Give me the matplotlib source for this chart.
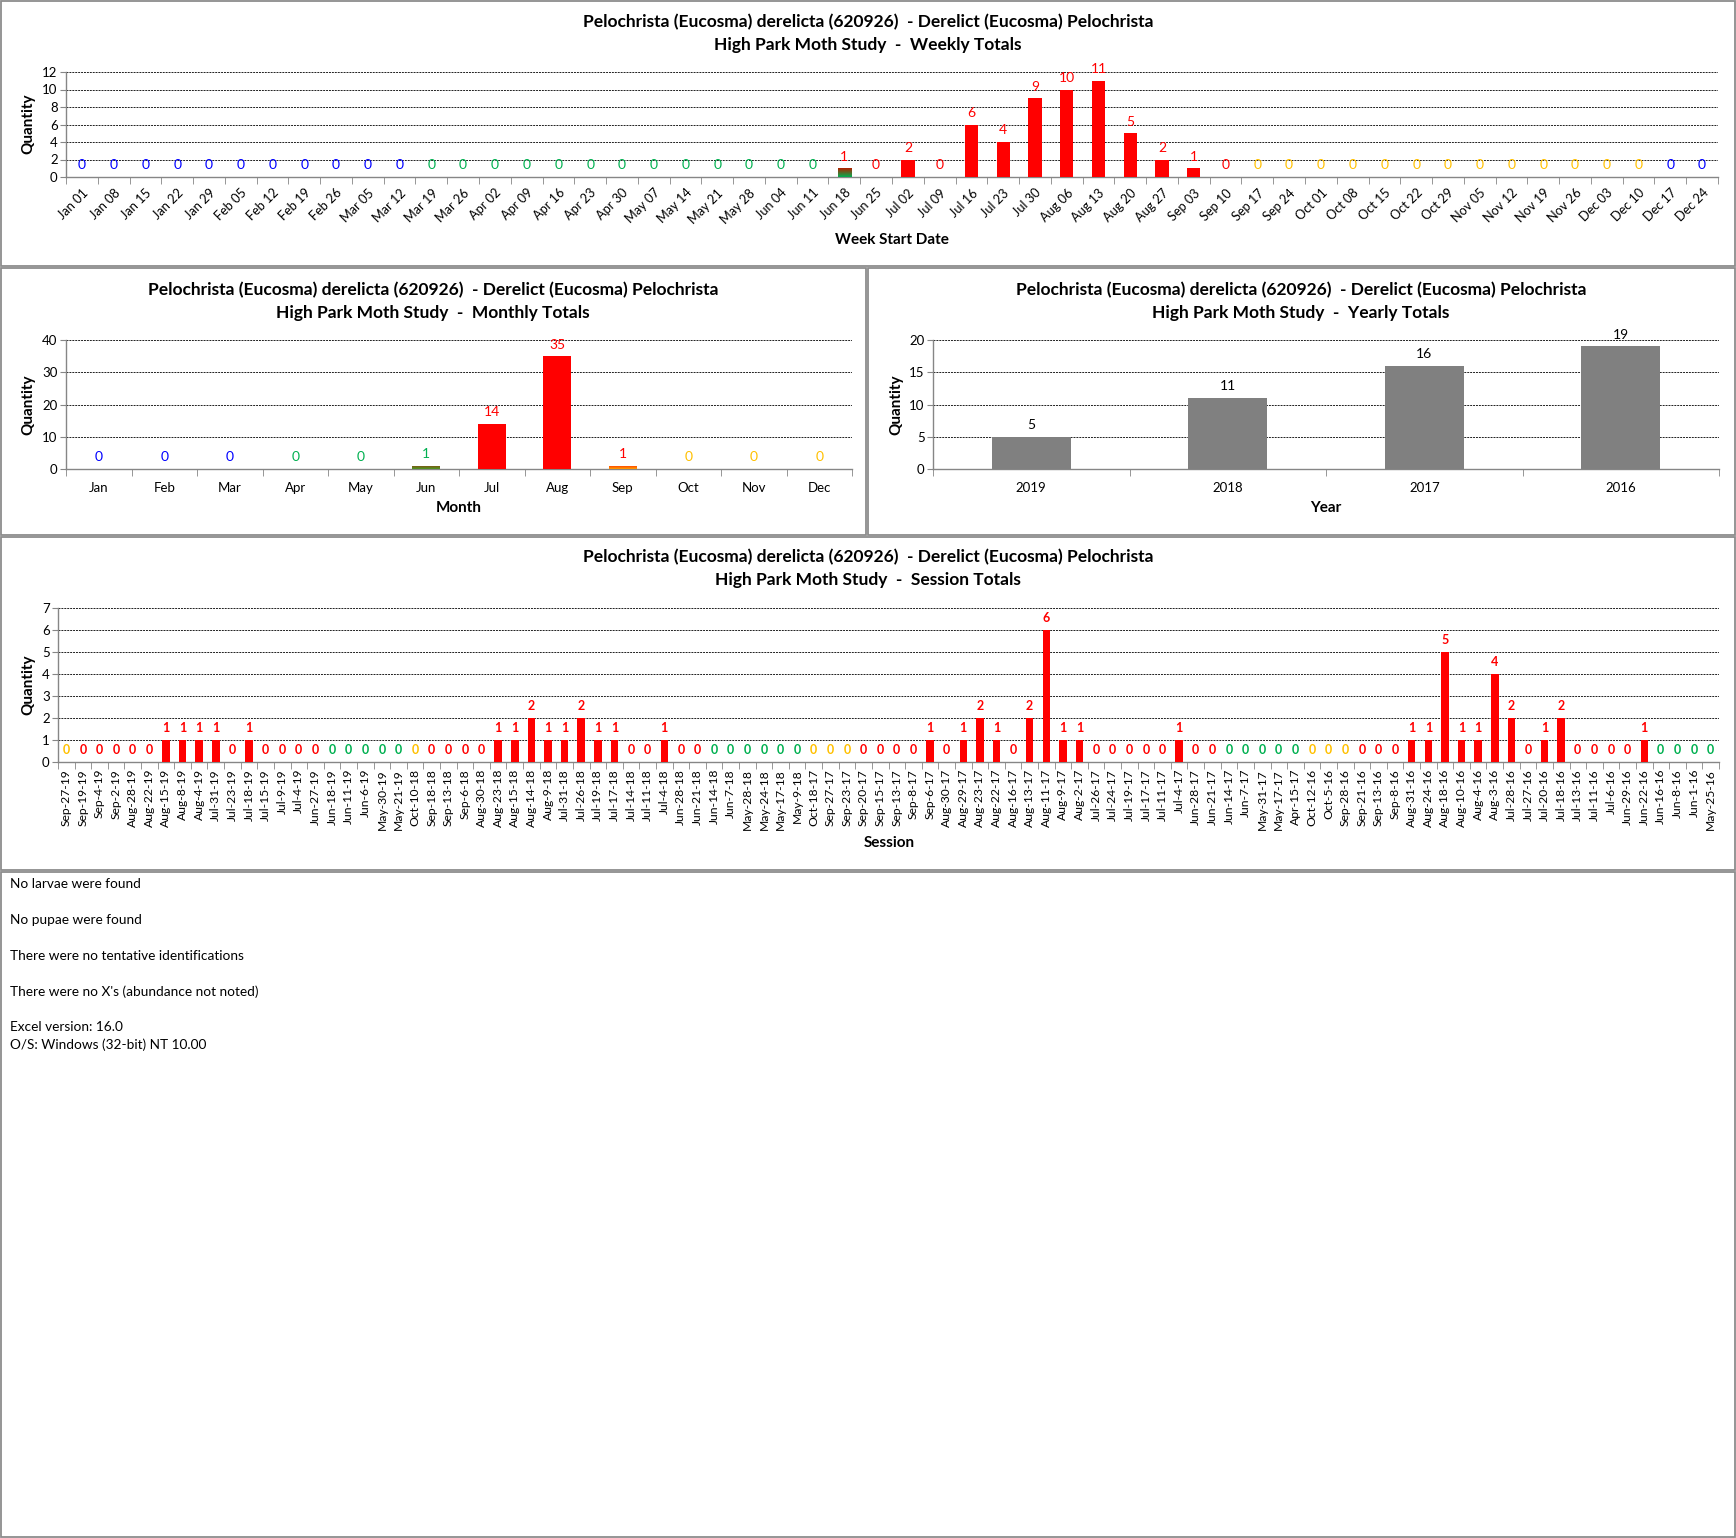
import numpy as np
import matplotlib
matplotlib.use('Agg')
import matplotlib.pyplot as plt
from matplotlib.patches import Rectangle
from matplotlib.colors import LinearSegmentedColormap

plt.rcParams['font.family'] = ['Lato', 'DejaVu Sans']

# ---------------- data ----------------
species = 'Pelochrista (Eucosma) derelicta (620926)  - Derelict (Eucosma) Pelochrista'

weeks = ['Jan 01', 'Jan 08', 'Jan 15', 'Jan 22', 'Jan 29', 'Feb 05', 'Feb 12', 'Feb 19',
         'Feb 26', 'Mar 05', 'Mar 12', 'Mar 19', 'Mar 26', 'Apr 02', 'Apr 09', 'Apr 16',
         'Apr 23', 'Apr 30', 'May 07', 'May 14', 'May 21', 'May 28', 'Jun 04', 'Jun 11',
         'Jun 18', 'Jun 25', 'Jul 02', 'Jul 09', 'Jul 16', 'Jul 23', 'Jul 30', 'Aug 06',
         'Aug 13', 'Aug 20', 'Aug 27', 'Sep 03', 'Sep 10', 'Sep 17', 'Sep 24', 'Oct 01',
         'Oct 08', 'Oct 15', 'Oct 22', 'Oct 29', 'Nov 05', 'Nov 12', 'Nov 19', 'Nov 26',
         'Dec 03', 'Dec 10', 'Dec 17', 'Dec 24']
weekly_counts = [0] * 24 + [1, 0, 2, 0, 6, 4, 9, 10, 11, 5, 2, 1, 0] + [0] * 15
# season of each week: W winter, Sp spring, Su summer, F fall, SpSu mixed
week_season = ['W'] * 11 + ['Sp'] * 13 + ['SpSu'] + ['Su'] * 12 + ['F'] * 13 + ['W'] * 2

months = ['Jan', 'Feb', 'Mar', 'Apr', 'May', 'Jun', 'Jul', 'Aug', 'Sep', 'Oct', 'Nov', 'Dec']
monthly_counts = [0, 0, 0, 0, 0, 1, 14, 35, 1, 0, 0, 0]
month_season = ['W', 'W', 'W', 'Sp', 'Sp', 'SpSu', 'Su', 'Su', 'SuF', 'F', 'F', 'F']

years = ['2019', '2018', '2017', '2016']
yearly_counts = [5, 11, 16, 19]

sessions = ['Sep-27-19', 'Sep-19-19', 'Sep-4-19', 'Sep-2-19', 'Aug-28-19', 'Aug-22-19',
            'Aug-15-19', 'Aug-8-19', 'Aug-4-19', 'Jul-31-19', 'Jul-23-19', 'Jul-18-19',
            'Jul-15-19', 'Jul-9-19', 'Jul-4-19', 'Jun-27-19', 'Jun-18-19', 'Jun-11-19',
            'Jun-6-19', 'May-30-19', 'May-21-19',
            'Oct-10-18', 'Sep-18-18', 'Sep-13-18', 'Sep-6-18', 'Aug-30-18', 'Aug-23-18',
            'Aug-15-18', 'Aug-14-18', 'Aug-9-18', 'Jul-31-18', 'Jul-26-18', 'Jul-19-18',
            'Jul-17-18', 'Jul-14-18', 'Jul-11-18', 'Jul-4-18', 'Jun-28-18', 'Jun-21-18',
            'Jun-14-18', 'Jun-7-18', 'May-28-18', 'May-24-18', 'May-17-18', 'May-9-18',
            'Oct-18-17', 'Sep-27-17', 'Sep-23-17', 'Sep-20-17', 'Sep-15-17', 'Sep-13-17',
            'Sep-8-17', 'Sep-6-17', 'Aug-30-17', 'Aug-29-17', 'Aug-23-17', 'Aug-22-17',
            'Aug-16-17', 'Aug-13-17', 'Aug-11-17', 'Aug-9-17', 'Aug-2-17', 'Jul-26-17',
            'Jul-24-17', 'Jul-19-17', 'Jul-17-17', 'Jul-11-17', 'Jul-4-17', 'Jun-28-17',
            'Jun-21-17', 'Jun-14-17', 'Jun-7-17', 'May-31-17', 'May-17-17', 'Apr-15-17',
            'Oct-12-16', 'Oct-5-16', 'Sep-28-16', 'Sep-21-16', 'Sep-13-16', 'Sep-8-16',
            'Aug-31-16', 'Aug-24-16', 'Aug-18-16', 'Aug-10-16', 'Aug-4-16', 'Aug-3-16',
            'Jul-28-16', 'Jul-27-16', 'Jul-20-16', 'Jul-18-16', 'Jul-13-16', 'Jul-11-16',
            'Jul-6-16', 'Jun-29-16', 'Jun-22-16', 'Jun-16-16', 'Jun-8-16', 'Jun-1-16',
            'May-25-16']
session_counts = [0, 0, 0, 0, 0, 0, 1, 1, 1, 1, 0, 1, 0, 0, 0, 0, 0, 0, 0, 0, 0,
                  0, 0, 0, 0, 0, 1, 1, 2, 1, 1, 2, 1, 1, 0, 0, 1, 0, 0, 0, 0, 0, 0, 0, 0,
                  0, 0, 0, 0, 0, 0, 0, 1, 0, 1, 2, 1, 0, 2, 6, 1, 1, 0, 0, 0, 0, 0, 1, 0,
                  0, 0, 0, 0, 0, 0,
                  0, 0, 0, 0, 0, 0, 1, 1, 5, 1, 1, 4, 2, 0, 1, 2, 0, 0, 0, 0, 1, 0, 0, 0, 0]

notes = ['No larvae were found', 'No pupae were found',
         'There were no tentative identifications',
         "There were no X's (abundance not noted)"]
version_lines = ['Excel version: 16.0', 'O/S: Windows (32-bit) NT 10.00']

# ---------------- style ----------------
RED = '#FF0000'
SEASON_COL = {'W': '#0000FF', 'Sp': '#00B050', 'Su': RED, 'F': '#FFC000'}
GRID = '#202020'
SPINE = '#868686'
MONTH_NUM = {m: i + 1 for i, m in enumerate(months)}
TITLE_FS = 12.5

W, H = 1736, 1538
fig = plt.figure(figsize=(W / 100, H / 100), dpi=100)


def px_axes(l, t, r, b):
    return fig.add_axes([l / W, 1 - b / H, (r - l) / W, (b - t) / H])


def ftext(x, y, s, **kw):
    fig.text(x / W, 1 - y / H, s, **kw)


def box(x0, y0, x1, y1):
    fig.add_artist(Rectangle((x0 / W, 1 - y1 / H), (x1 - x0) / W, (y1 - y0) / H,
                             transform=fig.transFigure, fill=False, ec='#8c8c8c', lw=1.3))


def season_of_date(label):
    mon, day = label.split('-')[:2]
    md = (MONTH_NUM[mon], int(day))
    if md >= (12, 21) or md < (3, 20):
        return 'W'
    if md < (6, 21):
        return 'Sp'
    if md < (9, 22):
        return 'Su'
    return 'F'


def gradient_bar(ax, rect, top, bottom):
    x, y, w, h = rect.get_x(), rect.get_y(), rect.get_width(), rect.get_height()
    cmap = LinearSegmentedColormap.from_list('g', [bottom, top])
    grad = np.linspace(0, 1, 64).reshape(-1, 1)
    im = ax.imshow(grad, extent=[x, x + w, y, y + h], origin='lower', aspect='auto',
                   cmap=cmap, zorder=3)
    im.set_clip_path(rect)
    rect.set_facecolor('none')


def style_axes(ax, n, ymax, ystep, labels, rot, lab_size, pad=6):
    ax.set_xlim(-0.5, n - 0.5)
    ax.set_ylim(0, ymax)
    ax.set_yticks(np.arange(0, ymax + 0.01, ystep))
    ax.yaxis.grid(True, color=GRID, linestyle=(0, (2, 1)), linewidth=0.7)
    ax.set_axisbelow(True)
    for s in ['top', 'right']:
        ax.spines[s].set_visible(False)
    for s in ['left', 'bottom']:
        ax.spines[s].set_color(SPINE)
        ax.spines[s].set_linewidth(1.0)
    ax.tick_params(axis='y', length=4, color=SPINE, labelsize=9.5, pad=2)
    ax.set_xticks(np.arange(n))
    ax.set_xticks(np.arange(-0.5, n, 1.0), minor=True)
    ax.tick_params(axis='x', which='major', length=0, labelsize=lab_size, pad=pad)
    ax.tick_params(axis='x', which='minor', length=5, color=SPINE)
    if rot == 45:
        ax.set_xticklabels(labels, rotation=45, ha='right', rotation_mode='anchor')
    elif rot == 90:
        ax.set_xticklabels(labels, rotation=90, ha='center', va='top')
    else:
        ax.set_xticklabels(labels)


def value_labels(ax, vals, colors, size, bold, off):
    for i, (v, c) in enumerate(zip(vals, colors)):
        ax.annotate(str(v), (i, v), xytext=(0, off), textcoords='offset points',
                    ha='center', va='bottom', fontsize=size, color=c,
                    fontweight='bold' if bold else 'normal')


# ---------------- weekly ----------------
box(1, 1, 1735, 266)
ftext(868, 22, species, ha='center', va='center', fontsize=TITLE_FS, fontweight='bold')
ftext(868, 45, 'High Park Moth Study  -  Weekly Totals', ha='center', va='center',
      fontsize=TITLE_FS, fontweight='bold')
ax = px_axes(66, 72, 1718, 177)
wk_fill = [SEASON_COL.get(s, RED) for s in week_season]
bars = ax.bar(np.arange(len(weeks)), weekly_counts, width=0.42, color=wk_fill, zorder=3)
for b, s in zip(bars, week_season):
    if s == 'SpSu':
        gradient_bar(ax, b, '#B22000', '#00B050')
style_axes(ax, len(weeks), 12, 2, weeks, 45, 9.2, pad=7)
ax.set_xlim(-0.5, len(weeks) - 0.5)
ax.set_ylim(0, 12)
value_labels(ax, weekly_counts, [SEASON_COL.get(s, RED) for s in week_season], 10, False, 4)
ftext(892, 240, 'Week Start Date', ha='center', va='center', fontsize=11, fontweight='bold')
ftext(28, 124, 'Quantity', ha='center', va='center', rotation=90, fontsize=11,
      fontweight='bold')

# ---------------- monthly ----------------
box(1, 268, 866, 535)
ftext(433, 290, species, ha='center', va='center', fontsize=TITLE_FS, fontweight='bold')
ftext(433, 313, 'High Park Moth Study  -  Monthly Totals', ha='center', va='center',
      fontsize=TITLE_FS, fontweight='bold')
ax = px_axes(66, 340, 852, 469)
mo_fill = [SEASON_COL.get(s, RED) for s in month_season]
bars = ax.bar(np.arange(len(months)), monthly_counts, width=0.42, color=mo_fill, zorder=3)
for b, s in zip(bars, month_season):
    if s == 'SpSu':
        gradient_bar(ax, b, '#8B4513', '#4C9A20')
    elif s == 'SuF':
        gradient_bar(ax, b, '#FF3000', '#FFA000')
style_axes(ax, len(months), 40, 10, months, 0, 9.5, pad=9)
ax.set_xlim(-0.5, len(months) - 0.5)
ax.set_ylim(0, 40)
mo_lab = {'W': SEASON_COL['W'], 'Sp': SEASON_COL['Sp'], 'SpSu': SEASON_COL['Sp'],
          'Su': RED, 'SuF': RED, 'F': SEASON_COL['F']}
value_labels(ax, monthly_counts, [mo_lab[s] for s in month_season], 10, False, 4)
ftext(459, 508, 'Month', ha='center', va='center', fontsize=11, fontweight='bold')
ftext(28, 405, 'Quantity', ha='center', va='center', rotation=90, fontsize=11,
      fontweight='bold')

# ---------------- yearly ----------------
box(868, 268, 1735, 535)
ftext(1301, 290, species, ha='center', va='center', fontsize=TITLE_FS, fontweight='bold')
ftext(1301, 313, 'High Park Moth Study  -  Yearly Totals', ha='center', va='center',
      fontsize=TITLE_FS, fontweight='bold')
ax = px_axes(933, 340, 1719, 469)
ax.bar(np.arange(len(years)), yearly_counts, width=0.4, color='#808080', zorder=3)
style_axes(ax, len(years), 20, 5, years, 0, 9.5, pad=9)
value_labels(ax, yearly_counts, ['black'] * len(years), 10, False, 4)
ftext(1326, 508, 'Year', ha='center', va='center', fontsize=11, fontweight='bold')
ftext(896, 405, 'Quantity', ha='center', va='center', rotation=90, fontsize=11,
      fontweight='bold')

# ---------------- sessions ----------------
box(1, 537, 1735, 870)
ftext(868, 557, species, ha='center', va='center', fontsize=TITLE_FS, fontweight='bold')
ftext(868, 580, 'High Park Moth Study  -  Session Totals', ha='center', va='center',
      fontsize=TITLE_FS, fontweight='bold')
ax = px_axes(58, 608, 1719, 762)
ax.bar(np.arange(len(sessions)), session_counts, width=0.45, color=RED, zorder=3)
style_axes(ax, len(sessions), 7, 1, sessions, 90, 8.7, pad=5)
ses_col = [RED if v > 0 else SEASON_COL[season_of_date(s)]
           for s, v in zip(sessions, session_counts)]
value_labels(ax, session_counts, ses_col, 9, True, 4)
ftext(889, 843, 'Session', ha='center', va='center', fontsize=11, fontweight='bold')
ftext(28, 685, 'Quantity', ha='center', va='center', rotation=90, fontsize=11,
      fontweight='bold')

# ---------------- notes ----------------
box(1, 872, 1735, 1537)
for k, line in enumerate(notes):
    ftext(10, 884 + 36 * k, line, ha='left', va='center', fontsize=9.8)
for k, line in enumerate(version_lines):
    ftext(10, 1027 + 18 * k, line, ha='left', va='center', fontsize=9.8)

fig.savefig('out.png', dpi=100, facecolor='white')
